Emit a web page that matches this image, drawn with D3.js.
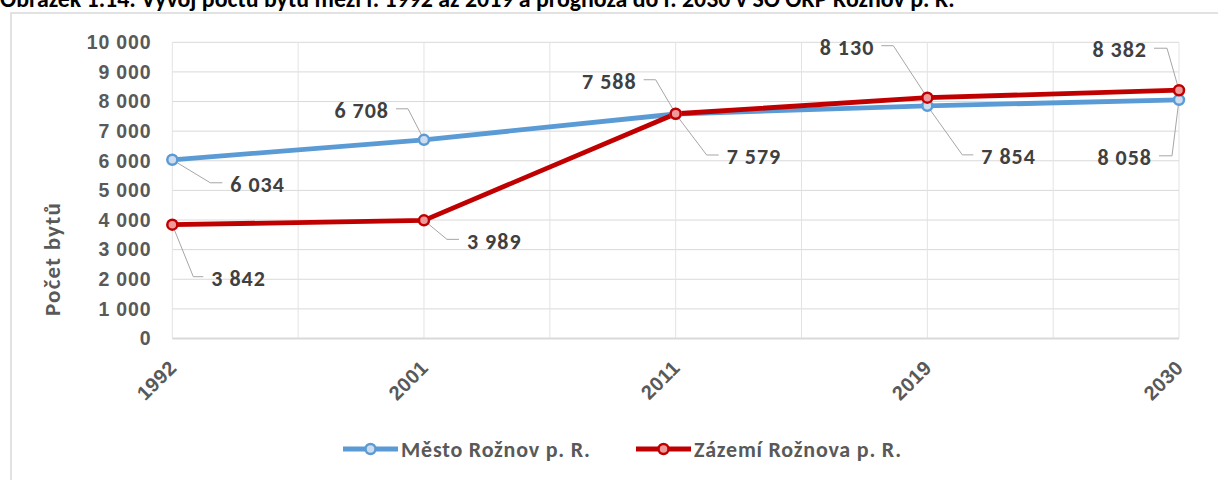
<!DOCTYPE html>
<html>
<head>
<meta charset="utf-8">
<script src="https://cdn.jsdelivr.net/npm/d3@7"></script>
<style>
body { margin: 0; background: #fff; }
svg { display: block; font-family: Calibri, Carlito, Lato, sans-serif; font-weight: bold; }
</style>
</head>
<body>
<svg id="chart" width="1218" height="480"></svg>
<script>
// data
var title = "Obrázek 1.14: Vývoj počtu bytů mezi r. 1992 až 2019 a prognóza do r. 2030 v SO ORP Rožnov p. R.";
var years = ["1992", "2001", "2011", "2019", "2030"];
var mesto = [6034, 6708, 7579, 7854, 8058];
var zazemi = [3842, 3989, 7588, 8130, 8382];
var yTicks = [0, 1000, 2000, 3000, 4000, 5000, 6000, 7000, 8000, 9000, 10000];
var seriesNames = ["Město Rožnov p. R.", "Zázemí Rožnova p. R."];
var yTitle = "Počet bytů";

// label leader offsets: [elbow dx, elbow dy, horizontal leg]
var mestoLeaders = [[38, 23, 12], [-16, -31, -12], [31, 41, 12], [35, 49, 11], [-7, 56, -13]];
var zazemiLeaders = [[21, 52, 10], [23, 19, 12], [-20, -34, -12], [-34, -52, -12], [-12, -42, -13]];

var colors = ["#5b9bd5", "#c00000"];
var markerFill = ["#cddcee", "#ee9a9a"];

var svg = d3.select("#chart");

// outer frame
svg.append("rect")
    .attr("x", 11).attr("y", 13)
    .attr("width", 1230).attr("height", 500)
    .attr("fill", "none")
    .attr("stroke", "#d9d9d9").attr("stroke-width", 1.5);

// title (clipped at the top, like the source)
var t = svg.append("text")
    .attr("x", 0).attr("y", 7)
    .attr("font-size", 18)
    .attr("fill", "#000")
    .text(title);
var tw = t.node().getComputedTextLength();
t.attr("font-size", 18 * 955 / tw);

// scales
x = d3.scalePoint().domain(years).range([172.3, 1179]);
y = d3.scaleLinear().domain([0, 10000]).range([338.5, 42.3]);

var plot = svg.append("g");

// horizontal gridlines
plot.selectAll("line.h")
    .data(yTicks.slice(1))
    .enter().append("line")
        .attr("x1", 172.3).attr("x2", 1179)
        .attr("y1", (d) => y(d)).attr("y2", (d) => y(d))
        .attr("stroke", "#d9d9d9").attr("stroke-width", 1);

// vertical gridlines, every half category
var half = d3.range(0, years.length * 2 - 1).map((i) => x(years[0]) + i * x.step() / 2);
plot.selectAll("line.v")
    .data(half)
    .enter().append("line")
        .attr("x1", (d) => d).attr("x2", (d) => d)
        .attr("y1", y(10000)).attr("y2", y(0))
        .attr("stroke", "#e3e3e3").attr("stroke-width", 1);

// y axis labels
var fmt = (d) => d3.format(",")(d).replace(/,/g, " ");
var gy = svg.append("g")
    .attr("transform", "translate(172.3,0)")
    .call(d3.axisLeft(y).tickValues(yTicks).tickSize(0).tickPadding(21).tickFormat(fmt));
gy.select(".domain").remove();
gy.selectAll("text")
    .attr("font-family", null)
    .attr("font-size", 19.5)
    .attr("letter-spacing", 0.8)
    .attr("fill", "#595959");

// x axis
var gx = svg.append("g")
    .attr("transform", "translate(0," + y(0) + ")")
    .call(d3.axisBottom(x).tickSize(0));
gx.select(".domain")
    .attr("stroke", "#d9d9d9").attr("stroke-width", 2)
    .attr("d", "M172.3,0H1179");
gx.selectAll("text")
    .attr("font-family", null)
    .attr("font-size", 20)
    .attr("letter-spacing", 0.4)
    .attr("fill", "#595959")
    .attr("text-anchor", "end")
    .attr("y", 0).attr("dy", 0)
    .attr("transform", "translate(5,30.5) rotate(-45)");

// y title
svg.append("text")
    .attr("transform", "translate(60,259) rotate(-90)")
    .attr("text-anchor", "middle")
    .attr("font-size", 23)
    .attr("letter-spacing", 1.2)
    .attr("fill", "#595959")
    .text(yTitle);

// series
var series = [
    { name: seriesNames[0], values: mesto, leaders: mestoLeaders },
    { name: seriesNames[1], values: zazemi, leaders: zazemiLeaders }
];

var line = d3.line()
    .x((d, i) => x(years[i]))
    .y((d) => y(d));

series.forEach(function(s, k) {
    plot.append("path")
        .datum(s.values)
        .attr("d", line)
        .attr("fill", "none")
        .attr("stroke", colors[k])
        .attr("stroke-width", 4.8)
        .attr("stroke-linejoin", "round");
});

// leaders and labels
series.forEach(function(s, k) {
    s.values.forEach(function(v, i) {
        var px = x(years[i]), py = y(v);
        var L = s.leaders[i];
        var ex = px + L[0], ey = py + L[1], hx = ex + L[2];
        plot.append("polyline")
            .attr("points", [[px, py], [ex, ey], [hx, ey]].join(" "))
            .attr("fill", "none")
            .attr("stroke", "#a6a6a6").attr("stroke-width", 1);
        plot.append("text")
            .attr("x", L[2] > 0 ? hx + 8 : hx - 7)
            .attr("y", ey + 1.5)
            .attr("dy", "0.35em")
            .attr("text-anchor", L[2] > 0 ? "start" : "end")
            .attr("font-size", 22)
            .attr("letter-spacing", 1)
            .attr("fill", "#404040")
            .text(fmt(v));
    });
});

// markers
series.forEach(function(s, k) {
    plot.append("g").selectAll("circle")
        .data(s.values)
        .enter().append("circle")
            .attr("cx", (d, i) => x(years[i]))
            .attr("cy", (d) => y(d))
            .attr("r", 5)
            .attr("fill", markerFill[k])
            .attr("stroke", colors[k])
            .attr("stroke-width", 2.5);
});

// legend
var legendX = [343, 636];
var lg = svg.append("g").selectAll("g")
    .data(seriesNames)
    .enter().append("g")
        .attr("transform", (d, i) => "translate(" + legendX[i] + ",449)");
lg.append("line")
    .attr("x1", 0).attr("x2", 55)
    .attr("stroke", (d, i) => colors[i]).attr("stroke-width", 4.8);
lg.append("circle")
    .attr("cx", 27.5).attr("r", 5)
    .attr("fill", (d, i) => markerFill[i])
    .attr("stroke", (d, i) => colors[i]).attr("stroke-width", 2.5);
lg.append("text")
    .attr("x", 58).attr("dy", "0.35em")
    .attr("font-size", 22)
    .attr("letter-spacing", 0.8)
    .attr("fill", "#595959")
    .text((d) => d);
</script>
</body>
</html>
